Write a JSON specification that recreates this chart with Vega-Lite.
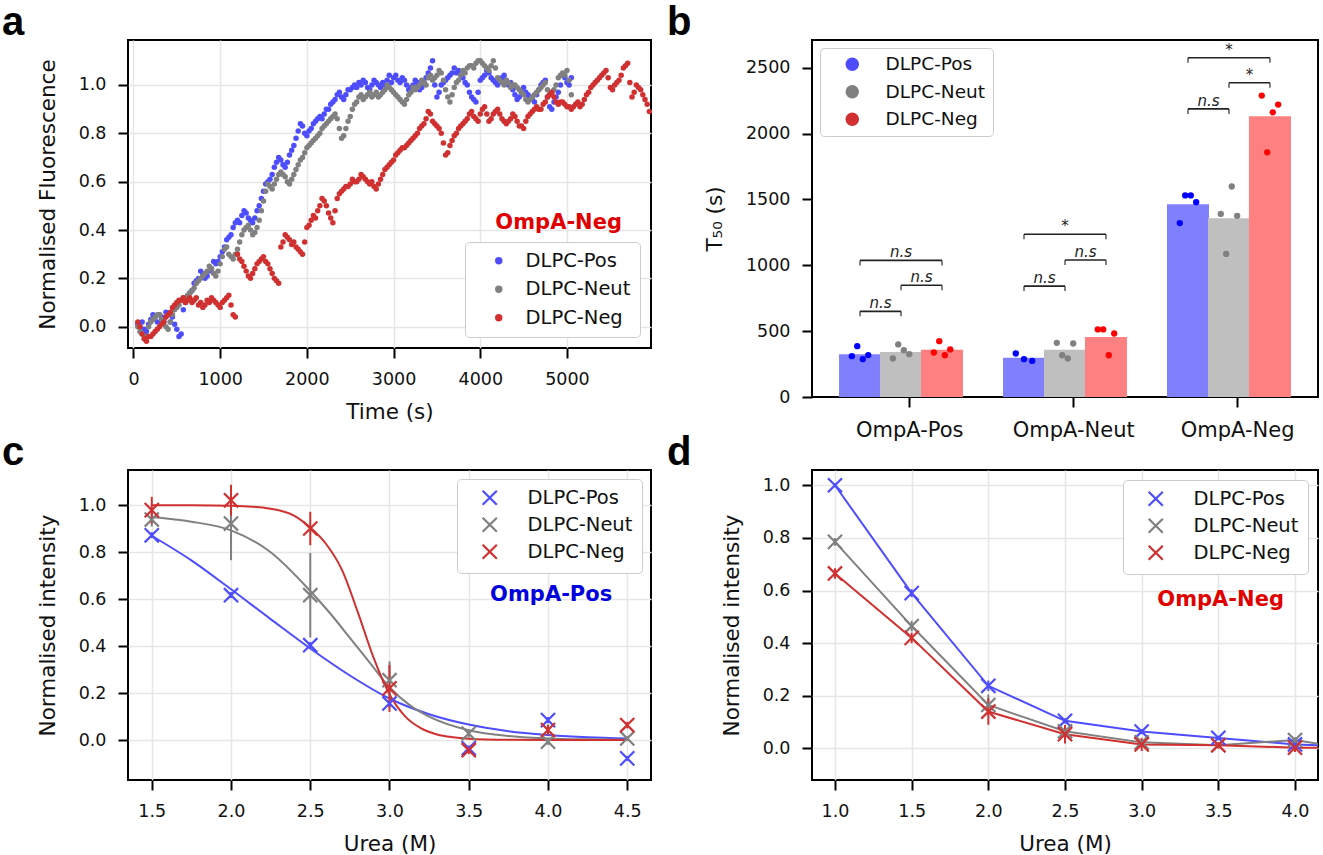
{
  "$schema": "https://vega.github.io/schema/vega-lite/v6.json",
  "background": "white",
  "padding": {"left": 1, "top": 2, "right": 0, "bottom": 0},
  "columns": 2,
  "bounds": "flush",
  "spacing": {"row": 73, "column": 161},
  "resolve": {
    "scale": {"x": "independent", "y": "independent", "color": "independent"},
    "legend": {"color": "independent"}
  },
  "concat": [
    {
      "width": 523,
      "height": 308,
      "title": {"text": "a", "dx": -126},
      "layer": [
        {
          "data": {
            "values": [
              {"time": 50, "DLPC-Pos": 0.01, "DLPC-Neut": 0.00, "DLPC-Neg": 0.02},
              {"time": 100, "DLPC-Pos": 0.02, "DLPC-Neut": -0.03, "DLPC-Neg": -0.03},
              {"time": 150, "DLPC-Pos": -0.02, "DLPC-Neut": -0.04, "DLPC-Neg": -0.06},
              {"time": 200, "DLPC-Pos": 0.03, "DLPC-Neut": 0.02, "DLPC-Neg": -0.04},
              {"time": 250, "DLPC-Pos": 0.04, "DLPC-Neut": 0.04, "DLPC-Neg": -0.02},
              {"time": 300, "DLPC-Pos": 0.05, "DLPC-Neut": 0.05, "DLPC-Neg": 0.00},
              {"time": 350, "DLPC-Pos": 0.03, "DLPC-Neut": 0.02, "DLPC-Neg": 0.02},
              {"time": 400, "DLPC-Pos": 0.05, "DLPC-Neut": -0.01, "DLPC-Neg": 0.05},
              {"time": 450, "DLPC-Pos": 0.04, "DLPC-Neut": 0.05, "DLPC-Neg": 0.08},
              {"time": 500, "DLPC-Pos": -0.01, "DLPC-Neut": 0.08, "DLPC-Neg": 0.10},
              {"time": 550, "DLPC-Pos": -0.03, "DLPC-Neut": 0.11, "DLPC-Neg": 0.11},
              {"time": 600, "DLPC-Pos": 0.10, "DLPC-Neut": 0.12, "DLPC-Neg": 0.10},
              {"time": 650, "DLPC-Pos": 0.14, "DLPC-Neut": 0.14, "DLPC-Neg": 0.12},
              {"time": 700, "DLPC-Pos": 0.18, "DLPC-Neut": 0.16, "DLPC-Neg": 0.11},
              {"time": 750, "DLPC-Pos": 0.20, "DLPC-Neut": 0.19, "DLPC-Neg": 0.09},
              {"time": 800, "DLPC-Pos": 0.22, "DLPC-Neut": 0.21, "DLPC-Neg": 0.08},
              {"time": 850, "DLPC-Pos": 0.21, "DLPC-Neut": 0.23, "DLPC-Neg": 0.11},
              {"time": 900, "DLPC-Pos": 0.24, "DLPC-Neut": 0.24, "DLPC-Neg": 0.12},
              {"time": 950, "DLPC-Pos": 0.26, "DLPC-Neut": 0.21, "DLPC-Neg": 0.10},
              {"time": 1000, "DLPC-Pos": 0.29, "DLPC-Neut": 0.26, "DLPC-Neg": 0.08},
              {"time": 1050, "DLPC-Pos": 0.33, "DLPC-Neut": 0.32, "DLPC-Neg": 0.11},
              {"time": 1100, "DLPC-Pos": 0.37, "DLPC-Neut": 0.30, "DLPC-Neg": 0.13},
              {"time": 1150, "DLPC-Pos": 0.41, "DLPC-Neut": 0.28, "DLPC-Neg": 0.05},
              {"time": 1200, "DLPC-Pos": 0.44, "DLPC-Neut": 0.32, "DLPC-Neg": 0.30},
              {"time": 1250, "DLPC-Pos": 0.46, "DLPC-Neut": 0.38, "DLPC-Neg": 0.27},
              {"time": 1300, "DLPC-Pos": 0.47, "DLPC-Neut": 0.41, "DLPC-Neg": 0.23},
              {"time": 1350, "DLPC-Pos": 0.44, "DLPC-Neut": 0.40, "DLPC-Neg": 0.20},
              {"time": 1400, "DLPC-Pos": 0.45, "DLPC-Neut": 0.39, "DLPC-Neg": 0.24},
              {"time": 1450, "DLPC-Pos": 0.50, "DLPC-Neut": 0.44, "DLPC-Neg": 0.27},
              {"time": 1500, "DLPC-Pos": 0.56, "DLPC-Neut": 0.52, "DLPC-Neg": 0.29},
              {"time": 1550, "DLPC-Pos": 0.60, "DLPC-Neut": 0.59, "DLPC-Neg": 0.26},
              {"time": 1600, "DLPC-Pos": 0.63, "DLPC-Neut": 0.57, "DLPC-Neg": 0.22},
              {"time": 1650, "DLPC-Pos": 0.68, "DLPC-Neut": 0.61, "DLPC-Neg": 0.19},
              {"time": 1700, "DLPC-Pos": 0.69, "DLPC-Neut": 0.64, "DLPC-Neg": 0.33},
              {"time": 1750, "DLPC-Pos": 0.66, "DLPC-Neut": 0.62, "DLPC-Neg": 0.38},
              {"time": 1800, "DLPC-Pos": 0.71, "DLPC-Neut": 0.59, "DLPC-Neg": 0.36},
              {"time": 1850, "DLPC-Pos": 0.75, "DLPC-Neut": 0.63, "DLPC-Neg": 0.35},
              {"time": 1900, "DLPC-Pos": 0.81, "DLPC-Neut": 0.67, "DLPC-Neg": 0.32},
              {"time": 1950, "DLPC-Pos": 0.83, "DLPC-Neut": 0.70, "DLPC-Neg": 0.30},
              {"time": 2000, "DLPC-Pos": 0.79, "DLPC-Neut": 0.74, "DLPC-Neg": 0.41},
              {"time": 2050, "DLPC-Pos": 0.82, "DLPC-Neut": 0.76, "DLPC-Neg": 0.44},
              {"time": 2100, "DLPC-Pos": 0.85, "DLPC-Neut": 0.78, "DLPC-Neg": 0.45},
              {"time": 2150, "DLPC-Pos": 0.87, "DLPC-Neut": 0.80, "DLPC-Neg": 0.50},
              {"time": 2200, "DLPC-Pos": 0.88, "DLPC-Neut": 0.83, "DLPC-Neg": 0.52},
              {"time": 2250, "DLPC-Pos": 0.90, "DLPC-Neut": 0.85, "DLPC-Neg": 0.47},
              {"time": 2300, "DLPC-Pos": 0.93, "DLPC-Neut": 0.87, "DLPC-Neg": 0.43},
              {"time": 2350, "DLPC-Pos": 0.96, "DLPC-Neut": 0.86, "DLPC-Neg": 0.53},
              {"time": 2400, "DLPC-Pos": 0.95, "DLPC-Neut": 0.78, "DLPC-Neg": 0.56},
              {"time": 2450, "DLPC-Pos": 0.96, "DLPC-Neut": 0.82, "DLPC-Neg": 0.58},
              {"time": 2500, "DLPC-Pos": 0.98, "DLPC-Neut": 0.87, "DLPC-Neg": 0.59},
              {"time": 2550, "DLPC-Pos": 1.00, "DLPC-Neut": 0.92, "DLPC-Neg": 0.60},
              {"time": 2600, "DLPC-Pos": 1.01, "DLPC-Neut": 0.95, "DLPC-Neg": 0.61},
              {"time": 2650, "DLPC-Pos": 1.02, "DLPC-Neut": 0.94, "DLPC-Neg": 0.62},
              {"time": 2700, "DLPC-Pos": 0.99, "DLPC-Neut": 0.96, "DLPC-Neg": 0.60},
              {"time": 2750, "DLPC-Pos": 1.00, "DLPC-Neut": 0.95, "DLPC-Neg": 0.60},
              {"time": 2800, "DLPC-Pos": 1.01, "DLPC-Neut": 0.97, "DLPC-Neg": 0.57},
              {"time": 2850, "DLPC-Pos": 0.99, "DLPC-Neut": 0.96, "DLPC-Neg": 0.61},
              {"time": 2900, "DLPC-Pos": 1.00, "DLPC-Neut": 0.98, "DLPC-Neg": 0.65},
              {"time": 2950, "DLPC-Pos": 1.04, "DLPC-Neut": 0.99, "DLPC-Neg": 0.67},
              {"time": 3000, "DLPC-Pos": 1.03, "DLPC-Neut": 0.97, "DLPC-Neg": 0.69},
              {"time": 3050, "DLPC-Pos": 1.02, "DLPC-Neut": 0.95, "DLPC-Neg": 0.72},
              {"time": 3100, "DLPC-Pos": 1.03, "DLPC-Neut": 0.93, "DLPC-Neg": 0.74},
              {"time": 3150, "DLPC-Pos": 1.00, "DLPC-Neut": 0.94, "DLPC-Neg": 0.75},
              {"time": 3200, "DLPC-Pos": 0.99, "DLPC-Neut": 0.97, "DLPC-Neg": 0.77},
              {"time": 3250, "DLPC-Pos": 1.02, "DLPC-Neut": 0.98, "DLPC-Neg": 0.79},
              {"time": 3300, "DLPC-Pos": 0.98, "DLPC-Neut": 1.00, "DLPC-Neg": 0.82},
              {"time": 3350, "DLPC-Pos": 1.01, "DLPC-Neut": 1.01, "DLPC-Neg": 0.84},
              {"time": 3400, "DLPC-Pos": 1.05, "DLPC-Neut": 1.03, "DLPC-Neg": 0.89},
              {"time": 3450, "DLPC-Pos": 1.10, "DLPC-Neut": 1.02, "DLPC-Neg": 0.85},
              {"time": 3500, "DLPC-Pos": 0.95, "DLPC-Neut": 1.04, "DLPC-Neg": 0.83},
              {"time": 3550, "DLPC-Pos": 1.00, "DLPC-Neut": 1.05, "DLPC-Neg": 0.80},
              {"time": 3600, "DLPC-Pos": 1.02, "DLPC-Neut": 0.98, "DLPC-Neg": 0.71},
              {"time": 3650, "DLPC-Pos": 1.04, "DLPC-Neut": 0.93, "DLPC-Neg": 0.75},
              {"time": 3700, "DLPC-Pos": 1.07, "DLPC-Neut": 0.99, "DLPC-Neg": 0.79},
              {"time": 3750, "DLPC-Pos": 1.06, "DLPC-Neut": 1.02, "DLPC-Neg": 0.82},
              {"time": 3800, "DLPC-Pos": 1.03, "DLPC-Neut": 1.06, "DLPC-Neg": 0.84},
              {"time": 3850, "DLPC-Pos": 1.00, "DLPC-Neut": 1.07, "DLPC-Neg": 0.86},
              {"time": 3900, "DLPC-Pos": 0.95, "DLPC-Neut": 1.08, "DLPC-Neg": 0.89},
              {"time": 3950, "DLPC-Pos": 0.93, "DLPC-Neut": 1.09, "DLPC-Neg": 0.86},
              {"time": 4000, "DLPC-Pos": 1.02, "DLPC-Neut": 1.10, "DLPC-Neg": 0.88},
              {"time": 4050, "DLPC-Pos": 1.04, "DLPC-Neut": 1.08, "DLPC-Neg": 0.91},
              {"time": 4100, "DLPC-Pos": 1.05, "DLPC-Neut": 1.06, "DLPC-Neg": 0.85},
              {"time": 4150, "DLPC-Pos": 1.02, "DLPC-Neut": 1.10, "DLPC-Neg": 0.88},
              {"time": 4200, "DLPC-Pos": 1.00, "DLPC-Neut": 1.03, "DLPC-Neg": 0.90},
              {"time": 4250, "DLPC-Pos": 1.03, "DLPC-Neut": 1.01, "DLPC-Neg": 0.86},
              {"time": 4300, "DLPC-Pos": 1.02, "DLPC-Neut": 1.02, "DLPC-Neg": 0.84},
              {"time": 4350, "DLPC-Pos": 1.01, "DLPC-Neut": 0.99, "DLPC-Neg": 0.86},
              {"time": 4400, "DLPC-Pos": 0.96, "DLPC-Neut": 1.00, "DLPC-Neg": 0.87},
              {"time": 4450, "DLPC-Pos": 0.95, "DLPC-Neut": 0.98, "DLPC-Neg": 0.83},
              {"time": 4500, "DLPC-Pos": 0.99, "DLPC-Neut": 0.96, "DLPC-Neg": 0.82},
              {"time": 4550, "DLPC-Pos": 0.96, "DLPC-Neut": 0.93, "DLPC-Neg": 0.87},
              {"time": 4600, "DLPC-Pos": 0.94, "DLPC-Neut": 0.95, "DLPC-Neg": 0.89},
              {"time": 4650, "DLPC-Pos": 0.96, "DLPC-Neut": 0.97, "DLPC-Neg": 0.91},
              {"time": 4700, "DLPC-Pos": 1.00, "DLPC-Neut": 0.99, "DLPC-Neg": 0.90},
              {"time": 4750, "DLPC-Pos": 1.02, "DLPC-Neut": 1.01, "DLPC-Neg": 0.93},
              {"time": 4800, "DLPC-Pos": 0.91, "DLPC-Neut": 0.96, "DLPC-Neg": 0.96},
              {"time": 4850, "DLPC-Pos": 0.93, "DLPC-Neut": 0.98, "DLPC-Neg": 0.95},
              {"time": 4900, "DLPC-Pos": 0.97, "DLPC-Neut": 1.03, "DLPC-Neg": 0.92},
              {"time": 4950, "DLPC-Pos": 1.04, "DLPC-Neut": 1.05, "DLPC-Neg": 0.93},
              {"time": 5000, "DLPC-Pos": 1.01, "DLPC-Neut": 1.06, "DLPC-Neg": 0.91},
              {"time": 5050, "DLPC-Pos": 1.03, "DLPC-Neut": 0.96, "DLPC-Neg": 0.90},
              {"time": 5100, "DLPC-Neg": 0.92},
              {"time": 5150, "DLPC-Neg": 0.91},
              {"time": 5200, "DLPC-Neg": 0.94},
              {"time": 5250, "DLPC-Neg": 0.97},
              {"time": 5300, "DLPC-Neg": 1.00},
              {"time": 5350, "DLPC-Neg": 1.02},
              {"time": 5400, "DLPC-Neg": 1.04},
              {"time": 5450, "DLPC-Neg": 1.06},
              {"time": 5500, "DLPC-Neg": 0.99},
              {"time": 5550, "DLPC-Neg": 1.00},
              {"time": 5600, "DLPC-Neg": 1.02},
              {"time": 5650, "DLPC-Neg": 1.07},
              {"time": 5700, "DLPC-Neg": 1.09},
              {"time": 5750, "DLPC-Neg": 0.95},
              {"time": 5800, "DLPC-Neg": 1.00},
              {"time": 5850, "DLPC-Neg": 0.98},
              {"time": 5900, "DLPC-Neg": 0.94},
              {"time": 5950, "DLPC-Neg": 0.89},
              {"time": 75, "DLPC-Pos": 0.00, "DLPC-Neut": -0.02, "DLPC-Neg": 0.00},
              {"time": 125, "DLPC-Pos": -0.01, "DLPC-Neut": -0.05, "DLPC-Neg": -0.05},
              {"time": 175, "DLPC-Pos": 0.01, "DLPC-Neut": 0.00, "DLPC-Neg": -0.04},
              {"time": 225, "DLPC-Pos": 0.05, "DLPC-Neut": 0.03, "DLPC-Neg": -0.03},
              {"time": 275, "DLPC-Pos": 0.02, "DLPC-Neut": 0.05, "DLPC-Neg": -0.01},
              {"time": 325, "DLPC-Pos": 0.04, "DLPC-Neut": 0.03, "DLPC-Neg": 0.01},
              {"time": 375, "DLPC-Pos": 0.06, "DLPC-Neut": 0.00, "DLPC-Neg": 0.04},
              {"time": 425, "DLPC-Pos": 0.02, "DLPC-Neut": 0.02, "DLPC-Neg": 0.06},
              {"time": 475, "DLPC-Pos": 0.01, "DLPC-Neut": 0.07, "DLPC-Neg": 0.09},
              {"time": 525, "DLPC-Pos": -0.04, "DLPC-Neut": 0.09, "DLPC-Neg": 0.11},
              {"time": 575, "DLPC-Pos": 0.07, "DLPC-Neut": 0.12, "DLPC-Neg": 0.12},
              {"time": 625, "DLPC-Pos": 0.12, "DLPC-Neut": 0.13, "DLPC-Neg": 0.11},
              {"time": 675, "DLPC-Pos": 0.15, "DLPC-Neut": 0.15, "DLPC-Neg": 0.10},
              {"time": 725, "DLPC-Pos": 0.19, "DLPC-Neut": 0.18, "DLPC-Neg": 0.12},
              {"time": 775, "DLPC-Pos": 0.23, "DLPC-Neut": 0.20, "DLPC-Neg": 0.10},
              {"time": 825, "DLPC-Pos": 0.20, "DLPC-Neut": 0.22, "DLPC-Neg": 0.09},
              {"time": 875, "DLPC-Pos": 0.23, "DLPC-Neut": 0.25, "DLPC-Neg": 0.10},
              {"time": 925, "DLPC-Pos": 0.27, "DLPC-Neut": 0.22, "DLPC-Neg": 0.11},
              {"time": 975, "DLPC-Pos": 0.27, "DLPC-Neut": 0.23, "DLPC-Neg": 0.09},
              {"time": 1025, "DLPC-Pos": 0.31, "DLPC-Neut": 0.29, "DLPC-Neg": 0.10},
              {"time": 1075, "DLPC-Pos": 0.36, "DLPC-Neut": 0.33, "DLPC-Neg": 0.12},
              {"time": 1125, "DLPC-Pos": 0.38, "DLPC-Neut": 0.29, "DLPC-Neg": 0.09},
              {"time": 1175, "DLPC-Pos": 0.43, "DLPC-Neut": 0.30, "DLPC-Neg": 0.04},
              {"time": 1225, "DLPC-Pos": 0.43, "DLPC-Neut": 0.35, "DLPC-Neg": 0.28},
              {"time": 1275, "DLPC-Pos": 0.48, "DLPC-Neut": 0.40, "DLPC-Neg": 0.25},
              {"time": 1325, "DLPC-Pos": 0.45, "DLPC-Neut": 0.42, "DLPC-Neg": 0.21},
              {"time": 1375, "DLPC-Pos": 0.43, "DLPC-Neut": 0.38, "DLPC-Neg": 0.22},
              {"time": 1425, "DLPC-Pos": 0.48, "DLPC-Neut": 0.41, "DLPC-Neg": 0.26},
              {"time": 1475, "DLPC-Pos": 0.53, "DLPC-Neut": 0.48, "DLPC-Neg": 0.28},
              {"time": 1525, "DLPC-Pos": 0.59, "DLPC-Neut": 0.56, "DLPC-Neg": 0.27},
              {"time": 1575, "DLPC-Pos": 0.61, "DLPC-Neut": 0.58, "DLPC-Neg": 0.24},
              {"time": 1625, "DLPC-Pos": 0.66, "DLPC-Neut": 0.59, "DLPC-Neg": 0.20},
              {"time": 1675, "DLPC-Pos": 0.70, "DLPC-Neut": 0.63, "DLPC-Neg": 0.18},
              {"time": 1725, "DLPC-Pos": 0.67, "DLPC-Neut": 0.63, "DLPC-Neg": 0.35},
              {"time": 1775, "DLPC-Pos": 0.68, "DLPC-Neut": 0.60, "DLPC-Neg": 0.37},
              {"time": 1825, "DLPC-Pos": 0.73, "DLPC-Neut": 0.61, "DLPC-Neg": 0.34},
              {"time": 1875, "DLPC-Pos": 0.78, "DLPC-Neut": 0.65, "DLPC-Neg": 0.33},
              {"time": 1925, "DLPC-Pos": 0.84, "DLPC-Neut": 0.69, "DLPC-Neg": 0.31},
              {"time": 1975, "DLPC-Pos": 0.80, "DLPC-Neut": 0.72, "DLPC-Neg": 0.35},
              {"time": 2025, "DLPC-Pos": 0.81, "DLPC-Neut": 0.75, "DLPC-Neg": 0.42},
              {"time": 2075, "DLPC-Pos": 0.84, "DLPC-Neut": 0.77, "DLPC-Neg": 0.46},
              {"time": 2125, "DLPC-Pos": 0.86, "DLPC-Neut": 0.79, "DLPC-Neg": 0.48},
              {"time": 2175, "DLPC-Pos": 0.86, "DLPC-Neut": 0.82, "DLPC-Neg": 0.53},
              {"time": 2225, "DLPC-Pos": 0.90, "DLPC-Neut": 0.84, "DLPC-Neg": 0.50},
              {"time": 2275, "DLPC-Pos": 0.92, "DLPC-Neut": 0.86, "DLPC-Neg": 0.45},
              {"time": 2325, "DLPC-Pos": 0.94, "DLPC-Neut": 0.88, "DLPC-Neg": 0.48},
              {"time": 2375, "DLPC-Pos": 0.97, "DLPC-Neut": 0.82, "DLPC-Neg": 0.55},
              {"time": 2425, "DLPC-Pos": 0.94, "DLPC-Neut": 0.79, "DLPC-Neg": 0.57},
              {"time": 2475, "DLPC-Pos": 0.98, "DLPC-Neut": 0.85, "DLPC-Neg": 0.58},
              {"time": 2525, "DLPC-Pos": 0.99, "DLPC-Neut": 0.90, "DLPC-Neg": 0.61},
              {"time": 2575, "DLPC-Pos": 0.99, "DLPC-Neut": 0.93, "DLPC-Neg": 0.60},
              {"time": 2625, "DLPC-Pos": 1.00, "DLPC-Neut": 0.96, "DLPC-Neg": 0.63},
              {"time": 2675, "DLPC-Pos": 1.01, "DLPC-Neut": 0.95, "DLPC-Neg": 0.61},
              {"time": 2725, "DLPC-Pos": 0.98, "DLPC-Neut": 0.97, "DLPC-Neg": 0.59},
              {"time": 2775, "DLPC-Pos": 1.02, "DLPC-Neut": 0.96, "DLPC-Neg": 0.58},
              {"time": 2825, "DLPC-Pos": 1.00, "DLPC-Neut": 0.95, "DLPC-Neg": 0.59},
              {"time": 2875, "DLPC-Pos": 1.01, "DLPC-Neut": 0.97, "DLPC-Neg": 0.63},
              {"time": 2925, "DLPC-Pos": 1.02, "DLPC-Neut": 1.00, "DLPC-Neg": 0.66},
              {"time": 2975, "DLPC-Pos": 1.01, "DLPC-Neut": 0.98, "DLPC-Neg": 0.68},
              {"time": 3025, "DLPC-Pos": 1.04, "DLPC-Neut": 0.96, "DLPC-Neg": 0.71},
              {"time": 3075, "DLPC-Pos": 1.01, "DLPC-Neut": 0.94, "DLPC-Neg": 0.73},
              {"time": 3125, "DLPC-Pos": 1.02, "DLPC-Neut": 0.92, "DLPC-Neg": 0.74},
              {"time": 3175, "DLPC-Pos": 0.98, "DLPC-Neut": 0.96, "DLPC-Neg": 0.76},
              {"time": 3225, "DLPC-Pos": 1.00, "DLPC-Neut": 0.99, "DLPC-Neg": 0.78},
              {"time": 3275, "DLPC-Pos": 1.01, "DLPC-Neut": 0.99, "DLPC-Neg": 0.80},
              {"time": 3325, "DLPC-Pos": 0.99, "DLPC-Neut": 1.02, "DLPC-Neg": 0.83},
              {"time": 3375, "DLPC-Pos": 1.03, "DLPC-Neut": 1.00, "DLPC-Neg": 0.86},
              {"time": 3425, "DLPC-Pos": 1.07, "DLPC-Neut": 1.04, "DLPC-Neg": 0.88},
              {"time": 3475, "DLPC-Pos": 1.00, "DLPC-Neut": 1.03, "DLPC-Neg": 0.84},
              {"time": 3525, "DLPC-Pos": 0.97, "DLPC-Neut": 1.06, "DLPC-Neg": 0.82},
              {"time": 3575, "DLPC-Pos": 1.01, "DLPC-Neut": 1.02, "DLPC-Neg": 0.76},
              {"time": 3625, "DLPC-Pos": 1.03, "DLPC-Neut": 0.95, "DLPC-Neg": 0.72},
              {"time": 3675, "DLPC-Pos": 1.05, "DLPC-Neut": 0.96, "DLPC-Neg": 0.77},
              {"time": 3725, "DLPC-Pos": 1.05, "DLPC-Neut": 1.01, "DLPC-Neg": 0.80},
              {"time": 3775, "DLPC-Pos": 1.04, "DLPC-Neut": 1.04, "DLPC-Neg": 0.83},
              {"time": 3825, "DLPC-Pos": 1.01, "DLPC-Neut": 1.05, "DLPC-Neg": 0.85},
              {"time": 3875, "DLPC-Pos": 0.97, "DLPC-Neut": 1.08, "DLPC-Neg": 0.88},
              {"time": 3925, "DLPC-Pos": 0.94, "DLPC-Neut": 1.07, "DLPC-Neg": 0.87},
              {"time": 3975, "DLPC-Pos": 0.97, "DLPC-Neut": 1.10, "DLPC-Neg": 0.85},
              {"time": 4025, "DLPC-Pos": 1.03, "DLPC-Neut": 1.09, "DLPC-Neg": 0.90},
              {"time": 4075, "DLPC-Pos": 1.06, "DLPC-Neut": 1.07, "DLPC-Neg": 0.88},
              {"time": 4125, "DLPC-Pos": 1.03, "DLPC-Neut": 1.08, "DLPC-Neg": 0.86},
              {"time": 4175, "DLPC-Pos": 1.01, "DLPC-Neut": 1.07, "DLPC-Neg": 0.89},
              {"time": 4225, "DLPC-Pos": 1.02, "DLPC-Neut": 1.02, "DLPC-Neg": 0.88},
              {"time": 4275, "DLPC-Pos": 1.04, "DLPC-Neut": 1.00, "DLPC-Neg": 0.85},
              {"time": 4325, "DLPC-Pos": 1.00, "DLPC-Neut": 1.01, "DLPC-Neg": 0.85},
              {"time": 4375, "DLPC-Pos": 0.98, "DLPC-Neut": 1.00, "DLPC-Neg": 0.88},
              {"time": 4425, "DLPC-Pos": 0.94, "DLPC-Neut": 0.99, "DLPC-Neg": 0.85},
              {"time": 4475, "DLPC-Pos": 0.97, "DLPC-Neut": 0.97, "DLPC-Neg": 0.83},
              {"time": 4525, "DLPC-Pos": 0.97, "DLPC-Neut": 0.94, "DLPC-Neg": 0.85},
              {"time": 4575, "DLPC-Pos": 0.95, "DLPC-Neut": 0.94, "DLPC-Neg": 0.88},
              {"time": 4625, "DLPC-Pos": 0.93, "DLPC-Neut": 0.96, "DLPC-Neg": 0.90},
              {"time": 4675, "DLPC-Pos": 0.98, "DLPC-Neut": 0.98, "DLPC-Neg": 0.90},
              {"time": 4725, "DLPC-Pos": 1.01, "DLPC-Neut": 1.00, "DLPC-Neg": 0.92},
              {"time": 4775, "DLPC-Pos": 0.95, "DLPC-Neut": 0.98, "DLPC-Neg": 0.95},
              {"time": 4825, "DLPC-Pos": 0.90, "DLPC-Neut": 0.97, "DLPC-Neg": 0.97},
              {"time": 4875, "DLPC-Pos": 0.95, "DLPC-Neut": 1.00, "DLPC-Neg": 0.93},
              {"time": 4925, "DLPC-Pos": 1.00, "DLPC-Neut": 1.04, "DLPC-Neg": 0.93},
              {"time": 4975, "DLPC-Pos": 1.03, "DLPC-Neut": 1.04, "DLPC-Neg": 0.92},
              {"time": 5025, "DLPC-Pos": 1.00, "DLPC-Neut": 1.02, "DLPC-Neg": 0.91},
              {"time": 5075, "DLPC-Neg": 0.91},
              {"time": 5125, "DLPC-Neg": 0.93},
              {"time": 5175, "DLPC-Neg": 0.92},
              {"time": 5225, "DLPC-Neg": 0.96},
              {"time": 5275, "DLPC-Neg": 0.99},
              {"time": 5325, "DLPC-Neg": 1.01},
              {"time": 5375, "DLPC-Neg": 1.03},
              {"time": 5425, "DLPC-Neg": 1.05},
              {"time": 5475, "DLPC-Neg": 1.03},
              {"time": 5525, "DLPC-Neg": 0.98},
              {"time": 5575, "DLPC-Neg": 1.01},
              {"time": 5625, "DLPC-Neg": 1.04},
              {"time": 5675, "DLPC-Neg": 1.08},
              {"time": 5725, "DLPC-Neg": 1.01},
              {"time": 5775, "DLPC-Neg": 0.97},
              {"time": 5825, "DLPC-Neg": 0.99},
              {"time": 5875, "DLPC-Neg": 0.96},
              {"time": 5925, "DLPC-Neg": 0.92}
            ]
          },
          "transform": [
            {"fold": ["DLPC-Pos", "DLPC-Neut", "DLPC-Neg"], "as": ["lipid", "fluor"]},
            {"filter": "isValid(datum.fluor)"}
          ],
          "mark": {"type": "circle", "size": 30, "opacity": 1},
          "encoding": {
            "x": {
              "field": "time", "type": "quantitative",
              "scale": {"domain": [-63, 5969], "nice": false, "zero": false},
              "axis": {"values": [0, 1000, 2000, 3000, 4000, 5000], "format": "d", "title": "Time (s)", "grid": true}
            },
            "y": {
              "field": "fluor", "type": "quantitative",
              "scale": {"domain": [-0.088, 1.186], "nice": false, "zero": false},
              "axis": {"values": [0, 0.2, 0.4, 0.6, 0.8, 1.0], "format": ".1f", "title": "Normalised Fluorescence", "grid": true}
            },
            "color": {
              "field": "lipid", "type": "nominal",
              "scale": {"domain": ["DLPC-Pos", "DLPC-Neut", "DLPC-Neg"], "range": ["#4d4dff", "#808080", "#d03030"]},
              "legend": {
                "title": null, "orient": "bottom-right", "offset": 11, "padding": 9,
                "symbolType": "circle", "symbolSize": 55, "symbolOffset": 15, "labelOffset": 17,
                "labelFontSize": 19.5, "rowPadding": 7.5,
                "strokeColor": "#cccccc", "cornerRadius": 4, "fillColor": "white"
              }
            },
            "order": {"field": "lipid", "type": "ordinal", "sort": "descending"}
          }
        },
        {
          "data": {"values": [{"label": "OmpA-Neg", "time": 4904, "fluor": 0.429}]},
          "mark": {"type": "text", "fontWeight": "bold", "fontSize": 21, "color": "#e00000"},
          "encoding": {
            "x": {"field": "time", "type": "quantitative"},
            "y": {"field": "fluor", "type": "quantitative"},
            "text": {"field": "label"}
          }
        }
      ]
    },
    {
      "width": 506,
      "height": 357,
      "title": {"text": "b", "dx": -145},
      "layer": [
        {
          "data": {
            "name": "bars",
            "values": [
              {"group": "OmpA-Pos", "lipid": "DLPC-Pos", "x": -0.3, "t50": 325},
              {"group": "OmpA-Pos", "lipid": "DLPC-Neut", "x": -0.05, "t50": 342},
              {"group": "OmpA-Pos", "lipid": "DLPC-Neg", "x": 0.2, "t50": 358},
              {"group": "OmpA-Neut", "lipid": "DLPC-Pos", "x": 0.7, "t50": 297},
              {"group": "OmpA-Neut", "lipid": "DLPC-Neut", "x": 0.95, "t50": 358},
              {"group": "OmpA-Neut", "lipid": "DLPC-Neg", "x": 1.2, "t50": 455},
              {"group": "OmpA-Neg", "lipid": "DLPC-Pos", "x": 1.7, "t50": 1464},
              {"group": "OmpA-Neg", "lipid": "DLPC-Neut", "x": 1.95, "t50": 1357},
              {"group": "OmpA-Neg", "lipid": "DLPC-Neg", "x": 2.2, "t50": 2131}
            ]
          },
          "layer": [
            {
              "mark": {"type": "bar", "size": 42, "orient": "vertical"},
              "encoding": {
                "x": {
                  "field": "x", "type": "quantitative", "title": null,
                  "scale": {"domain": [-0.5625, 2.4625], "nice": false, "zero": false},
                  "axis": {"values": [0, 1, 2], "grid": false, "labelFontSize": 21, "labelExpr": "datum.value == 0 ? 'OmpA-Pos' : datum.value == 1 ? 'OmpA-Neut' : 'OmpA-Neg'"}
                },
                "y": {
                  "field": "t50", "type": "quantitative", "title": "T₅₀ (s)",
                  "scale": {"domain": [0, 2710], "nice": false, "zero": false},
                  "axis": {"values": [0, 500, 1000, 1500, 2000, 2500], "grid": false, "format": "d"}
                },
                "y2": {"datum": 0},
                "color": {
                  "condition": [
                    {"test": "datum.lipid === 'DLPC-Pos'", "value": "#8080ff"},
                    {"test": "datum.lipid === 'DLPC-Neut'", "value": "#bfbfbf"}
                  ],
                  "value": "#ff8080"
                }
              }
            },
            {
              "mark": {"type": "circle", "opacity": 0, "size": 10},
              "encoding": {
                "x": {"field": "x", "type": "quantitative", "title": null},
                "y": {"field": "t50", "type": "quantitative", "title": "T₅₀ (s)"},
                "color": {
                  "field": "lipid", "type": "nominal",
                  "scale": {"domain": ["DLPC-Pos", "DLPC-Neut", "DLPC-Neg"], "range": ["#4d4dff", "#808080", "#d03030"]},
                  "legend": {
                    "title": null, "orient": "top-left", "offset": 8, "padding": 7,
                    "symbolType": "circle", "symbolSize": 180, "symbolOffset": 16, "labelOffset": 24,
                    "labelFontSize": 18.5, "rowPadding": 8.5, "symbolOpacity": 1,
                    "strokeColor": "#cccccc", "cornerRadius": 4, "fillColor": "white"
                  }
                }
              }
            }
          ]
        },
        {
          "data": {
            "values": [
              {"lipid": "DLPC-Pos", "x": -0.35, "t50": 310},
              {"lipid": "DLPC-Pos", "x": -0.317, "t50": 386},
              {"lipid": "DLPC-Pos", "x": -0.283, "t50": 287},
              {"lipid": "DLPC-Pos", "x": -0.25, "t50": 318},
              {"lipid": "DLPC-Neut", "x": -0.1, "t50": 292},
              {"lipid": "DLPC-Neut", "x": -0.067, "t50": 399},
              {"lipid": "DLPC-Neut", "x": -0.033, "t50": 355},
              {"lipid": "DLPC-Neut", "x": 0.0, "t50": 325},
              {"lipid": "DLPC-Neg", "x": 0.15, "t50": 338},
              {"lipid": "DLPC-Neg", "x": 0.183, "t50": 424},
              {"lipid": "DLPC-Neg", "x": 0.217, "t50": 317},
              {"lipid": "DLPC-Neg", "x": 0.25, "t50": 361},
              {"lipid": "DLPC-Pos", "x": 0.65, "t50": 330},
              {"lipid": "DLPC-Pos", "x": 0.7, "t50": 287},
              {"lipid": "DLPC-Pos", "x": 0.75, "t50": 274},
              {"lipid": "DLPC-Neut", "x": 0.9, "t50": 411},
              {"lipid": "DLPC-Neut", "x": 0.933, "t50": 317},
              {"lipid": "DLPC-Neut", "x": 0.967, "t50": 292},
              {"lipid": "DLPC-Neut", "x": 1.0, "t50": 406},
              {"lipid": "DLPC-Neg", "x": 1.15, "t50": 513},
              {"lipid": "DLPC-Neg", "x": 1.183, "t50": 513},
              {"lipid": "DLPC-Neg", "x": 1.217, "t50": 317},
              {"lipid": "DLPC-Neg", "x": 1.25, "t50": 482},
              {"lipid": "DLPC-Pos", "x": 1.65, "t50": 1320},
              {"lipid": "DLPC-Pos", "x": 1.683, "t50": 1530},
              {"lipid": "DLPC-Pos", "x": 1.717, "t50": 1530},
              {"lipid": "DLPC-Pos", "x": 1.75, "t50": 1479},
              {"lipid": "DLPC-Neut", "x": 1.9, "t50": 1390},
              {"lipid": "DLPC-Neut", "x": 1.933, "t50": 1086},
              {"lipid": "DLPC-Neut", "x": 1.967, "t50": 1598},
              {"lipid": "DLPC-Neut", "x": 2.0, "t50": 1375},
              {"lipid": "DLPC-Neg", "x": 2.15, "t50": 2288},
              {"lipid": "DLPC-Neg", "x": 2.183, "t50": 1857},
              {"lipid": "DLPC-Neg", "x": 2.217, "t50": 2161},
              {"lipid": "DLPC-Neg", "x": 2.25, "t50": 2220}
            ]
          },
          "mark": {"type": "circle", "size": 40, "opacity": 1},
          "encoding": {
            "x": {"field": "x", "type": "quantitative", "title": null},
            "y": {"field": "t50", "type": "quantitative", "title": "T₅₀ (s)"},
            "color": {
              "condition": [
                {"test": "datum.lipid === 'DLPC-Pos'", "value": "#0000ff"},
                {"test": "datum.lipid === 'DLPC-Neut'", "value": "#808080"}
              ],
              "value": "#ff0000"
            }
          }
        },
        {
          "data": {
            "values": [
              {"x1": -0.3, "x2": -0.05, "h": 650, "label": "n.s"},
              {"x1": -0.05, "x2": 0.2, "h": 848, "label": "n.s"},
              {"x1": -0.3, "x2": 0.2, "h": 1037, "label": "n.s"},
              {"x1": 0.7, "x2": 0.95, "h": 842, "label": "n.s"},
              {"x1": 0.95, "x2": 1.2, "h": 1040, "label": "n.s"},
              {"x1": 0.7, "x2": 1.2, "h": 1236, "label": "*"},
              {"x1": 1.7, "x2": 1.95, "h": 2187, "label": "n.s"},
              {"x1": 1.95, "x2": 2.2, "h": 2385, "label": "*"},
              {"x1": 1.7, "x2": 2.2, "h": 2575, "label": "*"}
            ]
          },
          "layer": [
            {
              "mark": {"type": "rule", "color": "#222222", "strokeWidth": 1.6},
              "encoding": {
                "x": {"field": "x1", "type": "quantitative", "title": null},
                "x2": {"field": "x2"},
                "y": {"field": "h", "type": "quantitative", "title": "T₅₀ (s)"}
              }
            },
            {
              "transform": [{"fold": ["x1", "x2"], "as": ["end", "xe"]}],
              "mark": {"type": "tick", "orient": "vertical", "color": "#222222", "thickness": 1.6, "size": 5, "yOffset": 2.5},
              "encoding": {
                "x": {"field": "xe", "type": "quantitative", "title": null},
                "y": {"field": "h", "type": "quantitative", "title": "T₅₀ (s)"}
              }
            },
            {
              "transform": [{"calculate": "(datum.x1 + datum.x2) / 2", "as": "xm"}],
              "mark": {"type": "text", "fontStyle": "italic", "fontSize": 15, "baseline": "alphabetic", "dy": -3, "color": "#222222"},
              "encoding": {
                "x": {"field": "xm", "type": "quantitative", "title": null},
                "y": {"field": "h", "type": "quantitative", "title": "T₅₀ (s)"},
                "text": {"field": "label"}
              }
            }
          ]
        }
      ]
    },
    {
      "width": 523,
      "height": 310,
      "title": {"text": "c", "dx": -126},
      "layer": [
        {
          "data": {
            "values": [
              {"lipid": "DLPC-Pos", "urea": 1.5, "v": 0.87},
              {"lipid": "DLPC-Pos", "urea": 1.75, "v": 0.765},
              {"lipid": "DLPC-Pos", "urea": 2.0, "v": 0.642},
              {"lipid": "DLPC-Pos", "urea": 2.25, "v": 0.515},
              {"lipid": "DLPC-Pos", "urea": 2.5, "v": 0.39},
              {"lipid": "DLPC-Pos", "urea": 2.75, "v": 0.275},
              {"lipid": "DLPC-Pos", "urea": 3.0, "v": 0.177},
              {"lipid": "DLPC-Pos", "urea": 3.25, "v": 0.11},
              {"lipid": "DLPC-Pos", "urea": 3.5, "v": 0.066},
              {"lipid": "DLPC-Pos", "urea": 3.75, "v": 0.038},
              {"lipid": "DLPC-Pos", "urea": 4.0, "v": 0.022},
              {"lipid": "DLPC-Pos", "urea": 4.25, "v": 0.012},
              {"lipid": "DLPC-Pos", "urea": 4.5, "v": 0.007},
              {"lipid": "DLPC-Neut", "urea": 1.5, "v": 0.95},
              {"lipid": "DLPC-Neut", "urea": 1.75, "v": 0.93},
              {"lipid": "DLPC-Neut", "urea": 2.0, "v": 0.893},
              {"lipid": "DLPC-Neut", "urea": 2.25, "v": 0.8},
              {"lipid": "DLPC-Neut", "urea": 2.5, "v": 0.635},
              {"lipid": "DLPC-Neut", "urea": 2.625, "v": 0.54},
              {"lipid": "DLPC-Neut", "urea": 2.75, "v": 0.435},
              {"lipid": "DLPC-Neut", "urea": 2.875, "v": 0.33},
              {"lipid": "DLPC-Neut", "urea": 3.0, "v": 0.225},
              {"lipid": "DLPC-Neut", "urea": 3.125, "v": 0.15},
              {"lipid": "DLPC-Neut", "urea": 3.25, "v": 0.1},
              {"lipid": "DLPC-Neut", "urea": 3.5, "v": 0.042},
              {"lipid": "DLPC-Neut", "urea": 3.75, "v": 0.017},
              {"lipid": "DLPC-Neut", "urea": 4.0, "v": 0.007},
              {"lipid": "DLPC-Neut", "urea": 4.25, "v": 0.003},
              {"lipid": "DLPC-Neut", "urea": 4.5, "v": 0.001},
              {"lipid": "DLPC-Neg", "urea": 1.5, "v": 1.0},
              {"lipid": "DLPC-Neg", "urea": 1.75, "v": 1.0},
              {"lipid": "DLPC-Neg", "urea": 2.0, "v": 0.998},
              {"lipid": "DLPC-Neg", "urea": 2.25, "v": 0.985},
              {"lipid": "DLPC-Neg", "urea": 2.4, "v": 0.955},
              {"lipid": "DLPC-Neg", "urea": 2.5, "v": 0.905},
              {"lipid": "DLPC-Neg", "urea": 2.6, "v": 0.835},
              {"lipid": "DLPC-Neg", "urea": 2.7, "v": 0.725},
              {"lipid": "DLPC-Neg", "urea": 2.8, "v": 0.545},
              {"lipid": "DLPC-Neg", "urea": 2.9, "v": 0.35},
              {"lipid": "DLPC-Neg", "urea": 3.0, "v": 0.195},
              {"lipid": "DLPC-Neg", "urea": 3.1, "v": 0.1},
              {"lipid": "DLPC-Neg", "urea": 3.2, "v": 0.05},
              {"lipid": "DLPC-Neg", "urea": 3.3, "v": 0.024},
              {"lipid": "DLPC-Neg", "urea": 3.4, "v": 0.012},
              {"lipid": "DLPC-Neg", "urea": 3.5, "v": 0.006},
              {"lipid": "DLPC-Neg", "urea": 3.75, "v": 0.001},
              {"lipid": "DLPC-Neg", "urea": 4.0, "v": 0.0},
              {"lipid": "DLPC-Neg", "urea": 4.5, "v": 0.0}
            ]
          },
          "mark": {"type": "line", "strokeWidth": 2, "interpolate": "monotone"},
          "encoding": {
            "x": {
              "field": "urea", "type": "quantitative",
              "scale": {"domain": [1.35, 4.65], "nice": false, "zero": false},
              "axis": {"values": [1.5, 2.0, 2.5, 3.0, 3.5, 4.0, 4.5], "format": ".1f", "title": "Urea (M)", "grid": true}
            },
            "y": {
              "field": "v", "type": "quantitative",
              "scale": {"domain": [-0.17, 1.15], "nice": false, "zero": false},
              "axis": {"values": [0, 0.2, 0.4, 0.6, 0.8, 1.0], "format": ".1f", "title": "Normalised intensity", "grid": true}
            },
            "detail": {"field": "lipid", "type": "nominal"},
            "color": {
              "condition": [
                {"test": "datum.lipid === 'DLPC-Pos'", "value": "#4d4dff"},
                {"test": "datum.lipid === 'DLPC-Neut'", "value": "#808080"}
              ],
              "value": "#d03030"
            }
          }
        },
        {
          "data": {
            "values": [
              {"lipid": "DLPC-Pos", "urea": 1.5, "v": 0.872, "lo": 0.86, "hi": 0.885},
              {"lipid": "DLPC-Pos", "urea": 2.0, "v": 0.617, "lo": 0.605, "hi": 0.63},
              {"lipid": "DLPC-Pos", "urea": 2.5, "v": 0.404, "lo": 0.39, "hi": 0.418},
              {"lipid": "DLPC-Pos", "urea": 3.0, "v": 0.156, "lo": 0.14, "hi": 0.172},
              {"lipid": "DLPC-Pos", "urea": 3.5, "v": -0.035, "lo": -0.047, "hi": -0.023},
              {"lipid": "DLPC-Pos", "urea": 4.0, "v": 0.085, "lo": 0.072, "hi": 0.098},
              {"lipid": "DLPC-Pos", "urea": 4.5, "v": -0.078, "lo": -0.088, "hi": -0.068},
              {"lipid": "DLPC-Neut", "urea": 1.5, "v": 0.939, "lo": 0.91, "hi": 0.968},
              {"lipid": "DLPC-Neut", "urea": 2.0, "v": 0.922, "lo": 0.766, "hi": 1.078},
              {"lipid": "DLPC-Neut", "urea": 2.5, "v": 0.617, "lo": 0.437, "hi": 0.797},
              {"lipid": "DLPC-Neut", "urea": 3.0, "v": 0.255, "lo": 0.175, "hi": 0.335},
              {"lipid": "DLPC-Neut", "urea": 3.5, "v": 0.028, "lo": 0.01, "hi": 0.046},
              {"lipid": "DLPC-Neut", "urea": 4.0, "v": -0.007, "lo": -0.02, "hi": 0.006},
              {"lipid": "DLPC-Neut", "urea": 4.5, "v": 0.007, "lo": -0.003, "hi": 0.017},
              {"lipid": "DLPC-Neg", "urea": 1.5, "v": 0.979, "lo": 0.922, "hi": 1.036},
              {"lipid": "DLPC-Neg", "urea": 2.0, "v": 1.021, "lo": 0.955, "hi": 1.087},
              {"lipid": "DLPC-Neg", "urea": 2.5, "v": 0.901, "lo": 0.83, "hi": 0.972},
              {"lipid": "DLPC-Neg", "urea": 3.0, "v": 0.22, "lo": 0.12, "hi": 0.32},
              {"lipid": "DLPC-Neg", "urea": 3.5, "v": -0.043, "lo": -0.06, "hi": -0.026},
              {"lipid": "DLPC-Neg", "urea": 4.0, "v": 0.043, "lo": 0.02, "hi": 0.066},
              {"lipid": "DLPC-Neg", "urea": 4.5, "v": 0.064, "lo": 0.05, "hi": 0.078}
            ]
          },
          "layer": [
            {
              "mark": {"type": "rule", "strokeWidth": 2},
              "encoding": {
                "x": {"field": "urea", "type": "quantitative", "title": "Urea (M)"},
                "y": {"field": "lo", "type": "quantitative", "title": "Normalised intensity"},
                "y2": {"field": "hi"},
                "color": {
                  "condition": [
                    {"test": "datum.lipid === 'DLPC-Pos'", "value": "#4d4dff"},
                    {"test": "datum.lipid === 'DLPC-Neut'", "value": "#808080"}
                  ],
                  "value": "#d03030"
                }
              }
            },
            {
              "mark": {"type": "point", "shape": "M-1,-1L1,1M-1,1L1,-1", "filled": false, "strokeWidth": 2.2, "size": 200, "opacity": 1},
              "encoding": {
                "x": {"field": "urea", "type": "quantitative", "title": "Urea (M)"},
                "y": {"field": "v", "type": "quantitative", "title": "Normalised intensity"},
                "color": {
                  "field": "lipid", "type": "nominal",
                  "scale": {"domain": ["DLPC-Pos", "DLPC-Neut", "DLPC-Neg"], "range": ["#4d4dff", "#808080", "#d03030"]},
                  "legend": {
                    "title": null, "orient": "top-right", "offset": 9, "padding": 9,
                    "symbolType": "M-1,-1L1,1M-1,1L1,-1", "symbolSize": 200, "symbolStrokeWidth": 2.2,
                    "symbolOffset": 14, "labelOffset": 28,
                    "labelFontSize": 19.5, "rowPadding": 3,
                    "strokeColor": "#cccccc", "cornerRadius": 4, "fillColor": "white"
                  }
                }
              }
            }
          ]
        },
        {
          "data": {"values": [{"label": "OmpA-Pos", "urea": 4.02, "v": 0.617}]},
          "mark": {"type": "text", "fontWeight": "bold", "fontSize": 21, "color": "#0000dd"},
          "encoding": {
            "x": {"field": "urea", "type": "quantitative", "title": "Urea (M)"},
            "y": {"field": "v", "type": "quantitative", "title": "Normalised intensity"},
            "text": {"field": "label"}
          }
        }
      ]
    },
    {
      "width": 506,
      "height": 310,
      "title": {"text": "d", "dx": -145},
      "data": {
        "values": [
          {"lipid": "DLPC-Pos", "urea": 1.0, "v": 1.0, "lo": 0.992, "hi": 1.008},
          {"lipid": "DLPC-Pos", "urea": 1.5, "v": 0.59, "lo": 0.575, "hi": 0.605},
          {"lipid": "DLPC-Pos", "urea": 2.0, "v": 0.238, "lo": 0.218, "hi": 0.258},
          {"lipid": "DLPC-Pos", "urea": 2.5, "v": 0.105, "lo": 0.095, "hi": 0.115},
          {"lipid": "DLPC-Pos", "urea": 3.0, "v": 0.064, "lo": 0.054, "hi": 0.074},
          {"lipid": "DLPC-Pos", "urea": 3.5, "v": 0.04, "lo": 0.032, "hi": 0.048},
          {"lipid": "DLPC-Pos", "urea": 4.0, "v": 0.015, "lo": 0.01, "hi": 0.02},
          {"lipid": "DLPC-Pos", "urea": 4.5, "v": 0.005},
          {"lipid": "DLPC-Neut", "urea": 1.0, "v": 0.785, "lo": 0.77, "hi": 0.8},
          {"lipid": "DLPC-Neut", "urea": 1.5, "v": 0.465, "lo": 0.445, "hi": 0.485},
          {"lipid": "DLPC-Neut", "urea": 2.0, "v": 0.165, "lo": 0.125, "hi": 0.205},
          {"lipid": "DLPC-Neut", "urea": 2.5, "v": 0.065, "lo": 0.045, "hi": 0.085},
          {"lipid": "DLPC-Neut", "urea": 3.0, "v": 0.023, "lo": 0.013, "hi": 0.033},
          {"lipid": "DLPC-Neut", "urea": 3.5, "v": 0.012, "lo": 0.0, "hi": 0.024},
          {"lipid": "DLPC-Neut", "urea": 4.0, "v": 0.032, "lo": 0.022, "hi": 0.042},
          {"lipid": "DLPC-Neut", "urea": 4.5, "v": -0.015},
          {"lipid": "DLPC-Neg", "urea": 1.0, "v": 0.665, "lo": 0.645, "hi": 0.685},
          {"lipid": "DLPC-Neg", "urea": 1.5, "v": 0.42, "lo": 0.4, "hi": 0.44},
          {"lipid": "DLPC-Neg", "urea": 2.0, "v": 0.14, "lo": 0.09, "hi": 0.19},
          {"lipid": "DLPC-Neg", "urea": 2.5, "v": 0.054, "lo": 0.019, "hi": 0.089},
          {"lipid": "DLPC-Neg", "urea": 3.0, "v": 0.015, "lo": -0.01, "hi": 0.04},
          {"lipid": "DLPC-Neg", "urea": 3.5, "v": 0.012, "lo": 0.0, "hi": 0.024},
          {"lipid": "DLPC-Neg", "urea": 4.0, "v": 0.003, "lo": -0.014, "hi": 0.02},
          {"lipid": "DLPC-Neg", "urea": 4.5, "v": 0.0}
        ]
      },
      "layer": [
        {
          "mark": {"type": "line", "strokeWidth": 2, "clip": true},
          "encoding": {
            "x": {
              "field": "urea", "type": "quantitative",
              "scale": {"domain": [0.85, 4.15], "nice": false, "zero": false},
              "axis": {"values": [1.0, 1.5, 2.0, 2.5, 3.0, 3.5, 4.0], "format": ".1f", "title": "Urea (M)", "grid": true}
            },
            "y": {
              "field": "v", "type": "quantitative",
              "scale": {"domain": [-0.12, 1.058], "nice": false, "zero": false},
              "axis": {"values": [0, 0.2, 0.4, 0.6, 0.8, 1.0], "format": ".1f", "title": "Normalised intensity", "grid": true}
            },
            "detail": {"field": "lipid", "type": "nominal"},
            "color": {
              "condition": [
                {"test": "datum.lipid === 'DLPC-Pos'", "value": "#4d4dff"},
                {"test": "datum.lipid === 'DLPC-Neut'", "value": "#808080"}
              ],
              "value": "#d03030"
            }
          }
        },
        {
          "transform": [{"filter": "datum.urea <= 4"}],
          "layer": [
            {
              "mark": {"type": "rule", "strokeWidth": 2},
              "encoding": {
                "x": {"field": "urea", "type": "quantitative", "title": "Urea (M)"},
                "y": {"field": "lo", "type": "quantitative", "title": "Normalised intensity"},
                "y2": {"field": "hi"},
                "color": {
                  "condition": [
                    {"test": "datum.lipid === 'DLPC-Pos'", "value": "#4d4dff"},
                    {"test": "datum.lipid === 'DLPC-Neut'", "value": "#808080"}
                  ],
                  "value": "#d03030"
                }
              }
            },
            {
              "mark": {"type": "point", "shape": "M-1,-1L1,1M-1,1L1,-1", "filled": false, "strokeWidth": 2.2, "size": 200, "opacity": 1},
              "encoding": {
                "x": {"field": "urea", "type": "quantitative", "title": "Urea (M)"},
                "y": {"field": "v", "type": "quantitative", "title": "Normalised intensity"},
                "color": {
                  "field": "lipid", "type": "nominal",
                  "scale": {"domain": ["DLPC-Pos", "DLPC-Neut", "DLPC-Neg"], "range": ["#4d4dff", "#808080", "#d03030"]},
                  "legend": {
                    "title": null, "orient": "top-right", "offset": 10, "padding": 9,
                    "symbolType": "M-1,-1L1,1M-1,1L1,-1", "symbolSize": 200, "symbolStrokeWidth": 2.2,
                    "symbolOffset": 14, "labelOffset": 28,
                    "labelFontSize": 19.5, "rowPadding": 3,
                    "strokeColor": "#cccccc", "cornerRadius": 4, "fillColor": "white"
                  }
                }
              }
            }
          ]
        },
        {
          "data": {"values": [{"label": "OmpA-Neg", "urea": 3.515, "v": 0.565}]},
          "mark": {"type": "text", "fontWeight": "bold", "fontSize": 21, "color": "#e00000"},
          "encoding": {
            "x": {"field": "urea", "type": "quantitative", "title": "Urea (M)"},
            "y": {"field": "v", "type": "quantitative", "title": "Normalised intensity"},
            "text": {"field": "label"}
          }
        }
      ]
    }
  ],
  "config": {
    "font": "DejaVu Sans",
    "view": {"stroke": "#000000", "strokeWidth": 2},
    "axis": {
      "domain": false,
      "tickColor": "#000000",
      "tickWidth": 2,
      "tickSize": 10,
      "labelFontSize": 17.5,
      "labelColor": "#111111",
      "titleFontSize": 21.5,
      "titleFontWeight": "normal",
      "titleColor": "#111111",
      "gridColor": "#e6e6e6",
      "gridWidth": 1.5
    },
    "axisX": {"labelPadding": 12, "titlePadding": 14},
    "axisY": {"labelPadding": 12, "titlePadding": 19},
    "legend": {"labelColor": "#111111", "labelFont": "DejaVu Sans"},
    "title": {
      "font": "Liberation Sans",
      "fontSize": 40,
      "fontWeight": "bold",
      "anchor": "start",
      "frame": "group",
      "baseline": "alphabetic",
      "offset": -3,
      "color": "#000000"
    }
  }
}
